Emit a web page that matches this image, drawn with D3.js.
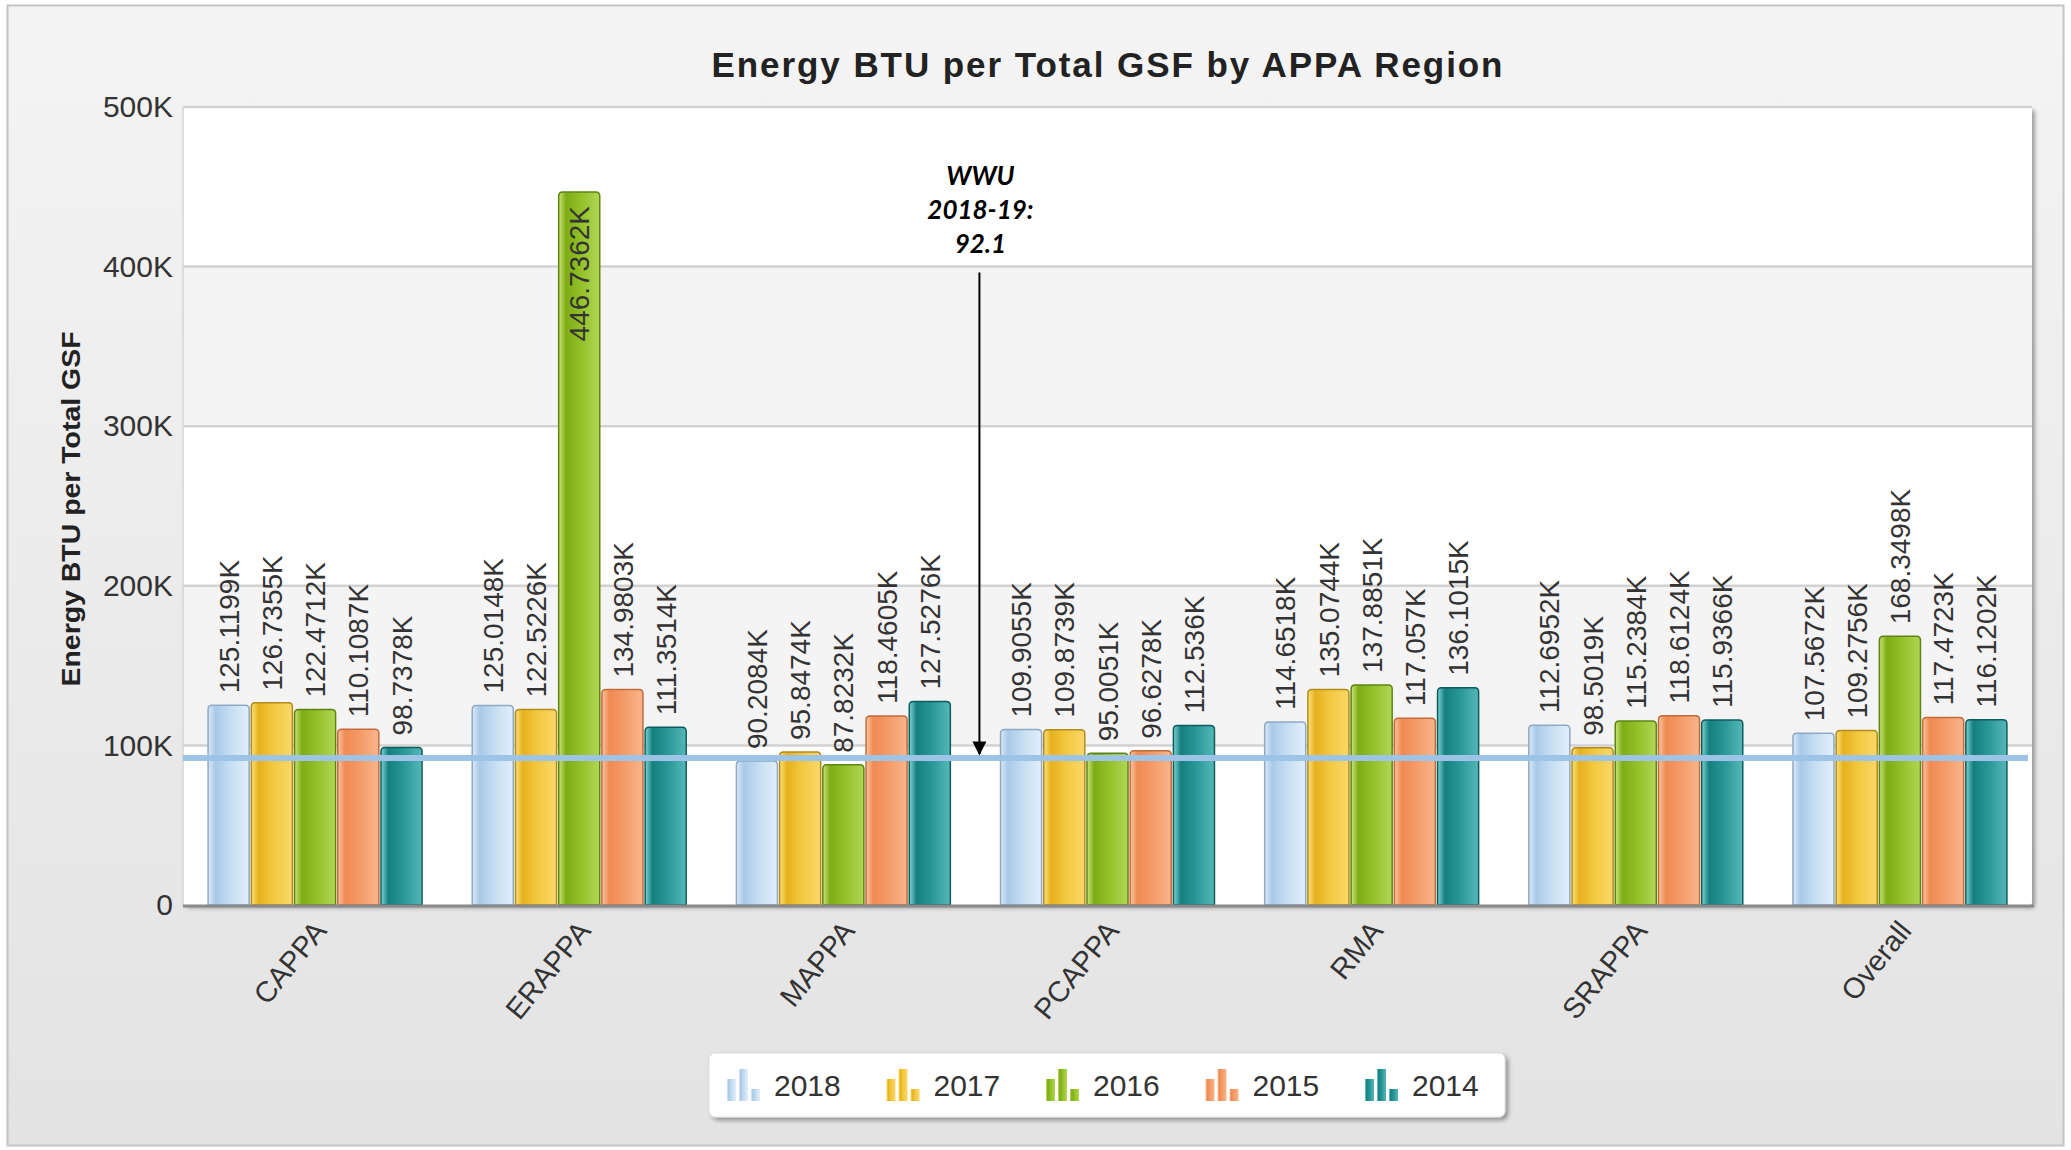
<!DOCTYPE html>
<html>
<head>
<meta charset="utf-8">
<script src="https://cdn.jsdelivr.net/npm/d3@7"></script>
<style>
  html, body { margin: 0; padding: 0; background: #ffffff; }
  svg { display: block; }
  text { font-family: "Liberation Sans", Arial, sans-serif; }
</style>
</head>
<body>
<svg id="chart" width="2071" height="1150"></svg>
<script>
// ---------------- DATA ----------------
const chartTitle = "Energy BTU per Total GSF by APPA Region";
const yAxisTitle = "Energy BTU per Total GSF";
const categories = ["CAPPA", "ERAPPA", "MAPPA", "PCAPPA", "RMA", "SRAPPA", "Overall"];
const years = ["2018", "2017", "2016", "2015", "2014"];
// values in thousands (K)
const v2018 = [125.1199, 125.0148, 90.2084, 109.9055, 114.6518, 112.6952, 107.5672];
const v2017 = [126.7355, 122.5226, 95.8474, 109.8739, 135.0744, 98.5019, 109.2756];
const v2016 = [122.4712, 446.7362, 87.8232, 95.0051, 137.8851, 115.2384, 168.3498];
const v2015 = [110.1087, 134.9803, 118.4605, 96.6278, 117.057, 118.6124, 117.4723];
const v2014 = [98.7378, 111.3514, 127.5276, 112.536, 136.1015, 115.9366, 116.1202];
const yTicks = [0, 100, 200, 300, 400, 500];
const yTickLabels = ["0", "100K", "200K", "300K", "400K", "500K"];
const wwuValue = 92.1;
const wwuLines = ["WWU", "2018-19:", "92.1"];

const seriesValues = [v2018, v2017, v2016, v2015, v2014];

// ---------------- STYLE ----------------
const seriesStyle = {
  "2018": { stops: ["#dbeaf8", "#a9c9e7", "#c6def3", "#e2effa"], stroke: "#8fa9c4" },
  "2017": { stops: ["#fbe27e", "#e6b11e", "#f3c940", "#fad86a"], stroke: "#b38b1c" },
  "2016": { stops: ["#cde47a", "#7dac14", "#93c12a", "#b2d655"], stroke: "#5d8412" },
  "2015": { stops: ["#fbc6a2", "#ef8a52", "#f49c69", "#f9b58b"], stroke: "#c26b3c" },
  "2014": { stops: ["#7fd6d6", "#157f7f", "#2a9797", "#56b7b7"], stroke: "#0e5d5d" }
};

const svg = d3.select("#chart");
const defs = svg.append("defs");

// gradients
const bgGrad = defs.append("linearGradient").attr("id", "bgGrad")
  .attr("x1", 0).attr("y1", 0).attr("x2", 0).attr("y2", 1);
bgGrad.append("stop").attr("offset", "0%").attr("stop-color", "#f4f4f4");
bgGrad.append("stop").attr("offset", "100%").attr("stop-color", "#e3e3e3");

years.forEach(yr => {
  const g = defs.append("linearGradient").attr("id", "grad" + yr)
    .attr("x1", 0).attr("y1", 0).attr("x2", 1).attr("y2", 0);
  const st = seriesStyle[yr].stops;
  [0, 0.18, 0.55, 1].forEach((o, i) => {
    g.append("stop").attr("offset", o).attr("stop-color", st[i]);
  });
});

const shadow = defs.append("filter").attr("id", "shadow")
  .attr("x", "-5%").attr("y", "-5%").attr("width", "110%").attr("height", "115%");
shadow.append("feDropShadow").attr("dx", 3).attr("dy", 3)
  .attr("stdDeviation", 2).attr("flood-color", "#000").attr("flood-opacity", 0.35);

const arrowMarker = defs.append("marker").attr("id", "arrowHead")
  .attr("viewBox", "0 0 10 10").attr("refX", 9).attr("refY", 5)
  .attr("markerWidth", 8).attr("markerHeight", 7)
  .attr("markerUnits", "strokeWidth")
  .attr("orient", "auto");
arrowMarker.append("path").attr("d", "M0,0 L10,5 L0,10 Z").attr("fill", "#000");

// ---------------- LAYOUT ----------------
const plot = { left: 183, right: 2032, top: 107, bottom: 905 };

// outer background
svg.append("rect")
  .attr("x", 7.5).attr("y", 5.5).attr("width", 2056).attr("height", 1140)
  .attr("fill", "url(#bgGrad)").attr("stroke", "#c4c4c4").attr("stroke-width", 2);

// scales
const x0 = d3.scaleBand().domain(categories)
  .range([plot.left, plot.right]).paddingInner(0.19).paddingOuter(0.095);
const x1 = d3.scaleBand().domain(years)
  .range([0, x0.bandwidth()]).paddingInner(0.05).paddingOuter(0);
const y = d3.scaleLinear().domain([0, 500]).range([plot.bottom, plot.top]);

// plot area
svg.append("rect")
  .attr("x", plot.left).attr("y", plot.top)
  .attr("width", plot.right - plot.left).attr("height", plot.bottom - plot.top)
  .attr("rx", 3)
  .attr("fill", "#ffffff").attr("filter", "url(#shadow)");

// alternate bands
const bandPairs = [[300, 400], [100, 200]];
svg.append("g").selectAll("rect").data(bandPairs).join("rect")
  .attr("x", plot.left).attr("width", plot.right - plot.left)
  .attr("y", d => y(d[1])).attr("height", d => y(d[0]) - y(d[1]))
  .attr("fill", "#f4f4f4");

// gridlines
svg.append("g").selectAll("line").data(yTicks.filter(t => t > 0)).join("line")
  .attr("x1", plot.left).attr("x2", plot.right)
  .attr("y1", d => y(d)).attr("y2", d => y(d))
  .attr("stroke", "#d2d2d2").attr("stroke-width", 2.5);

// left border of plot
svg.append("line")
  .attr("x1", plot.left).attr("x2", plot.left)
  .attr("y1", plot.top).attr("y2", plot.bottom)
  .attr("stroke", "#d6d6d6").attr("stroke-width", 1.5);

// y axis tick labels (via d3 axis)
const yAxis = d3.axisLeft(y).tickValues(yTicks)
  .tickFormat((d, i) => yTickLabels[i]).tickSize(0).tickPadding(10);
const yAxisG = svg.append("g").attr("transform", `translate(${plot.left},0)`).call(yAxis);
yAxisG.select(".domain").remove();
yAxisG.selectAll("text")
  .attr("font-size", 30).attr("fill", "#333")
  .style("font-family", '"Liberation Sans", Arial, sans-serif');

// bars
const barGroups = svg.append("g").selectAll("g").data(categories).join("g")
  .attr("transform", d => `translate(${x0(d)},0)`);

function barPath(x, yTop, w, h, r) {
  r = Math.min(r, h);
  return `M${x},${yTop + h} L${x},${yTop + r} Q${x},${yTop} ${x + r},${yTop} ` +
         `L${x + w - r},${yTop} Q${x + w},${yTop} ${x + w},${yTop + r} L${x + w},${yTop + h} Z`;
}

barGroups.each(function (cat, ci) {
  const g = d3.select(this);
  const rows = years.map((yr, si) => ({ yr, v: seriesValues[si][ci] }));
  g.selectAll("path.bar").data(rows).join("path")
    .attr("class", "bar")
    .attr("d", d => barPath(x1(d.yr), y(d.v), x1.bandwidth(), y(0) - y(d.v), 4))
    .attr("fill", d => `url(#grad${d.yr})`)
    .attr("stroke", d => seriesStyle[d.yr].stroke)
    .attr("stroke-width", 1.5);

  g.selectAll("text.lbl").data(rows).join("text")
    .attr("class", "lbl")
    .attr("transform", d => {
      const cx = x1(d.yr) + x1.bandwidth() / 2;
      const inside = y(d.v) - 150 < plot.top;
      const yy = inside ? y(d.v) + 14 : y(d.v) - 12;
      return `translate(${cx},${yy}) rotate(-90)`;
    })
    .attr("text-anchor", d => (y(d.v) - 150 < plot.top) ? "end" : "start")
    .attr("dy", "0.36em")
    .attr("font-size", 28)
    .attr("fill", "#333")
    .text(d => d.v + "K");
});

// x axis line
svg.append("line")
  .attr("x1", plot.left).attr("x2", plot.right + 2)
  .attr("y1", plot.bottom + 1).attr("y2", plot.bottom + 1)
  .attr("stroke", "#8a8a8a").attr("stroke-width", 3);

// x axis labels
svg.append("g").selectAll("text").data(categories).join("text")
  .attr("transform", d => `translate(${x0(d) + x0.bandwidth() / 2 + 5},${plot.bottom + 20}) rotate(-51)`)
  .attr("text-anchor", "end")
  .attr("dy", "0.35em")
  .attr("font-size", 29)
  .attr("fill", "#333")
  .text(d => d);

// WWU reference line
svg.append("line")
  .attr("x1", plot.left).attr("x2", plot.right - 4)
  .attr("y1", y(wwuValue)).attr("y2", y(wwuValue))
  .attr("stroke", "#9dc3e6").attr("stroke-width", 6);

// annotation arrow
const arrowX = x0(categories[3]) - (x0.step() - x0.bandwidth()) / 2 + 4;
svg.append("line")
  .attr("x1", arrowX).attr("x2", arrowX)
  .attr("y1", y(400) + 6).attr("y2", y(wwuValue) - 4)
  .attr("stroke", "#000").attr("stroke-width", 2)
  .attr("marker-end", "url(#arrowHead)");

svg.append("g").selectAll("text").data(wwuLines).join("text")
  .attr("x", arrowX + 1)
  .attr("y", (d, i) => 185 + i * 34)
  .attr("text-anchor", "middle")
  .attr("font-size", 26)
  .attr("font-weight", "bold")
  .attr("font-style", "italic")
  .style("font-family", 'Lato, "Open Sans", sans-serif')
  .attr("fill", "#000")
  .text(d => d);

// title
svg.append("text")
  .attr("x", 1107).attr("y", 77)
  .attr("text-anchor", "middle")
  .attr("font-size", 35).attr("font-weight", "bold")
  .attr("fill", "#222")
  .attr("textLength", 791).attr("lengthAdjust", "spacing")
  .text(chartTitle);

// y axis title
svg.append("text")
  .attr("transform", "translate(80,509) rotate(-90)")
  .attr("text-anchor", "middle")
  .attr("font-size", 26).attr("font-weight", "bold")
  .attr("fill", "#222")
  .attr("textLength", 355).attr("lengthAdjust", "spacingAndGlyphs")
  .text(yAxisTitle);

// legend
const legend = svg.append("g");
legend.append("rect")
  .attr("x", 709).attr("y", 1053).attr("width", 796).attr("height", 64)
  .attr("rx", 6).attr("fill", "#ffffff").attr("stroke", "#dddddd")
  .attr("filter", "url(#shadow)");

const iconBars = [ { dx: 0, h: 22 }, { dx: 12, h: 32 }, { dx: 24, h: 12 } ];
const legItems = legend.selectAll("g.item").data(years).join("g")
  .attr("class", "item")
  .attr("transform", (d, i) => `translate(${727 + i * 159.5},0)`);
legItems.each(function (yr) {
  const g = d3.select(this);
  g.selectAll("rect").data(iconBars).join("rect")
    .attr("x", b => b.dx).attr("y", b => 1101 - b.h)
    .attr("width", 9).attr("height", b => b.h)
    .attr("fill", `url(#grad${yr})`);
});
legItems.append("text")
  .attr("x", 47).attr("y", 1096)
  .attr("font-size", 30).attr("fill", "#333")
  .text(d => d);
</script>
</body>
</html>
